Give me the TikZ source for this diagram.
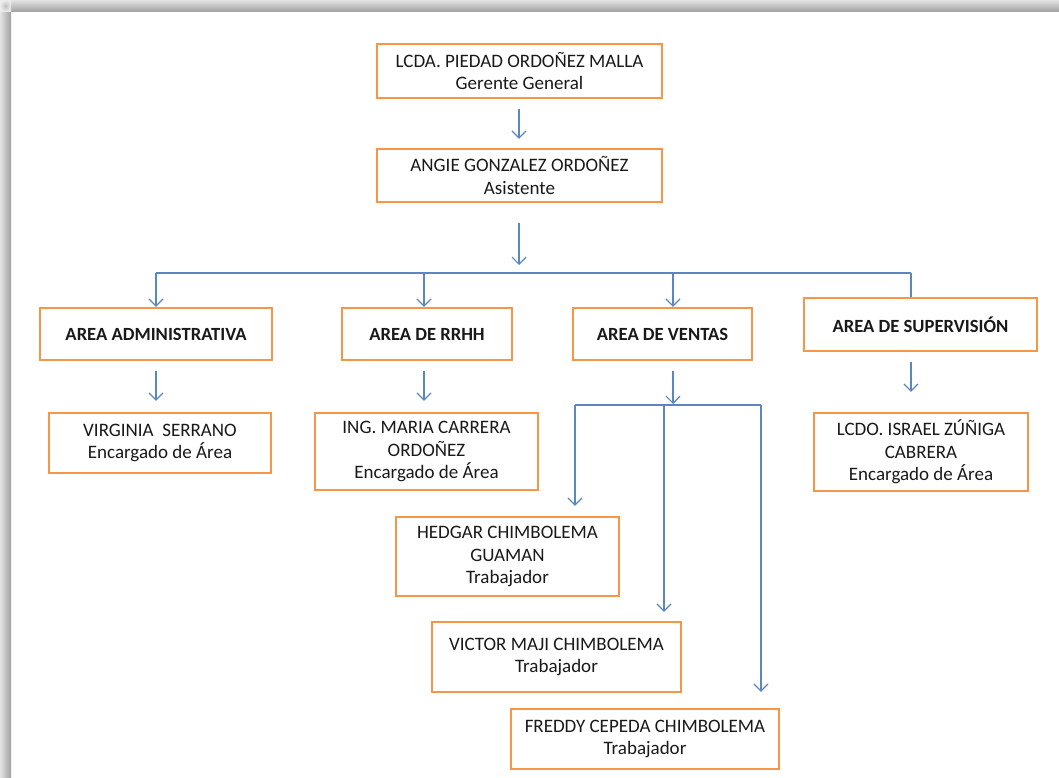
\documentclass[tikz,border=0pt]{standalone}
\usepackage{fontspec}
\setmainfont{Carlito}
\usetikzlibrary{arrows.meta}
\definecolor{boxorange}{HTML}{F79646}
\definecolor{linkblue}{HTML}{5B87C0}
\begin{document}
\begin{tikzpicture}[x=1pt,y=-1pt,
  orgbox/.style={draw=boxorange, line width=2.4pt, fill=white, inner sep=0pt,
    align=center, text=black!90, font={\fontsize{19}{22.5}\selectfont}},
  areabox/.style={orgbox, font={\fontsize{18.6}{22}\selectfont\bfseries}},
  link/.style={draw=linkblue, line width=1.3pt},
  arr/.style={link, -{Straight Barb[length=7pt,width=14pt,line width=1.2pt]}}]

% page with its soft shadow along the top and left edges
\useasboundingbox (0,0) rectangle (1059,778);
\fill[white] (0,0) rectangle (1059,778);
\shade[top color=gray!22, bottom color=gray!75] (11,0) rectangle (1059,12);
\shade[left color=gray!22, right color=gray!75] (0,12) rectangle (11,778);
\shade[inner color=gray!50, outer color=gray!15] (0,0) rectangle (11,12);

% management
\node[orgbox, minimum width=285, minimum height=54] (b1) at (519.5,71)
  {LCDA. PIEDAD ORDOÑEZ MALLA\\Gerente General};
\node[orgbox, minimum width=285, minimum height=53] (b2) at (519.5,175.5)
  {ANGIE GONZALEZ ORDOÑEZ\\Asistente};

% areas
\node[areabox, minimum width=232, minimum height=52] (a1) at (156,334) {AREA ADMINISTRATIVA};
\node[areabox, minimum width=170, minimum height=52] (a2) at (427,334) {AREA DE RRHH};
\node[areabox, minimum width=179, minimum height=52] (a3) at (662.5,334) {AREA DE VENTAS};
\node[areabox, minimum width=233, minimum height=53] (a4) at (920.5,324.5) {AREA DE SUPERVISIÓN};

% area heads
\node[orgbox, minimum width=222, minimum height=60] (p1) at (160,443)
  {VIRGINIA\ \ SERRANO\\Encargado de Área};
\node[orgbox, minimum width=223, minimum height=77] (p2) at (426.5,451.5)
  {ING. MARIA CARRERA\\ORDOÑEZ\\Encargado de Área};
\node[orgbox, minimum width=214, minimum height=78] (p4) at (921,452)
  {LCDO. ISRAEL ZÚÑIGA\\CABRERA\\Encargado de Área};

% sales staff
\node[orgbox, minimum width=223, minimum height=79] (w1) at (507.5,556.5)
  {HEDGAR CHIMBOLEMA\\GUAMAN\\Trabajador};
\node[orgbox, minimum width=249, minimum height=70] (w2) at (556.5,657)
  {VICTOR MAJI CHIMBOLEMA\\Trabajador};
\node[orgbox, minimum width=268, minimum height=60] (w3) at (645,739)
  {FREDDY CEPEDA CHIMBOLEMA\\Trabajador};

% junction points
\coordinate (j0) at (519,273);
\coordinate (j1) at (156,273);
\coordinate (j2) at (424,273);
\coordinate (j3) at (673,273);
\coordinate (j4) at (911,273);
\coordinate (k0) at (673,405);
\coordinate (k1) at (575,405);
\coordinate (k2) at (664,405);
\coordinate (k3) at (761,405);

% management chain
\draw[arr, shorten <=10pt, shorten >=9pt] (b1.south -| j0) -- (b2.north -| j0);
\draw[arr, shorten <=20pt, shorten >=8pt] (b2.south -| j0) -- (j0);

% bus to the areas
\draw[link] (j1) -- (j4);
\draw[arr] (j1) -- (a1.north -| j1);
\draw[arr] (j2) -- (a2.north -| j2);
\draw[arr] (j3) -- (a3.north -| j3);
\draw[link] (j4) -- (a4.north -| j4);

% areas to their heads
\draw[arr, shorten <=10pt, shorten >=11pt] (a1.south -| j1) -- (p1.north -| j1);
\draw[arr, shorten <=10pt, shorten >=11pt] (a2.south -| j2) -- (p2.north -| j2);
\draw[arr, shorten <=10pt, shorten >=20pt] (a4.south -| j4) -- (p4.north -| j4);

% sales branch
\draw[arr, shorten <=10pt, shorten >=1pt] (a3.south -| k0) -- (k0);
\draw[link] (k1) -- (k3);
\draw[arr, shorten >=10pt] (k1) -- (w1.north -| k1);
\draw[arr, shorten >=9pt] (k2) -- (w2.north -| k2);
\draw[arr, shorten >=16pt] (k3) -- (w3.north -| k3);
\end{tikzpicture}
\end{document}
